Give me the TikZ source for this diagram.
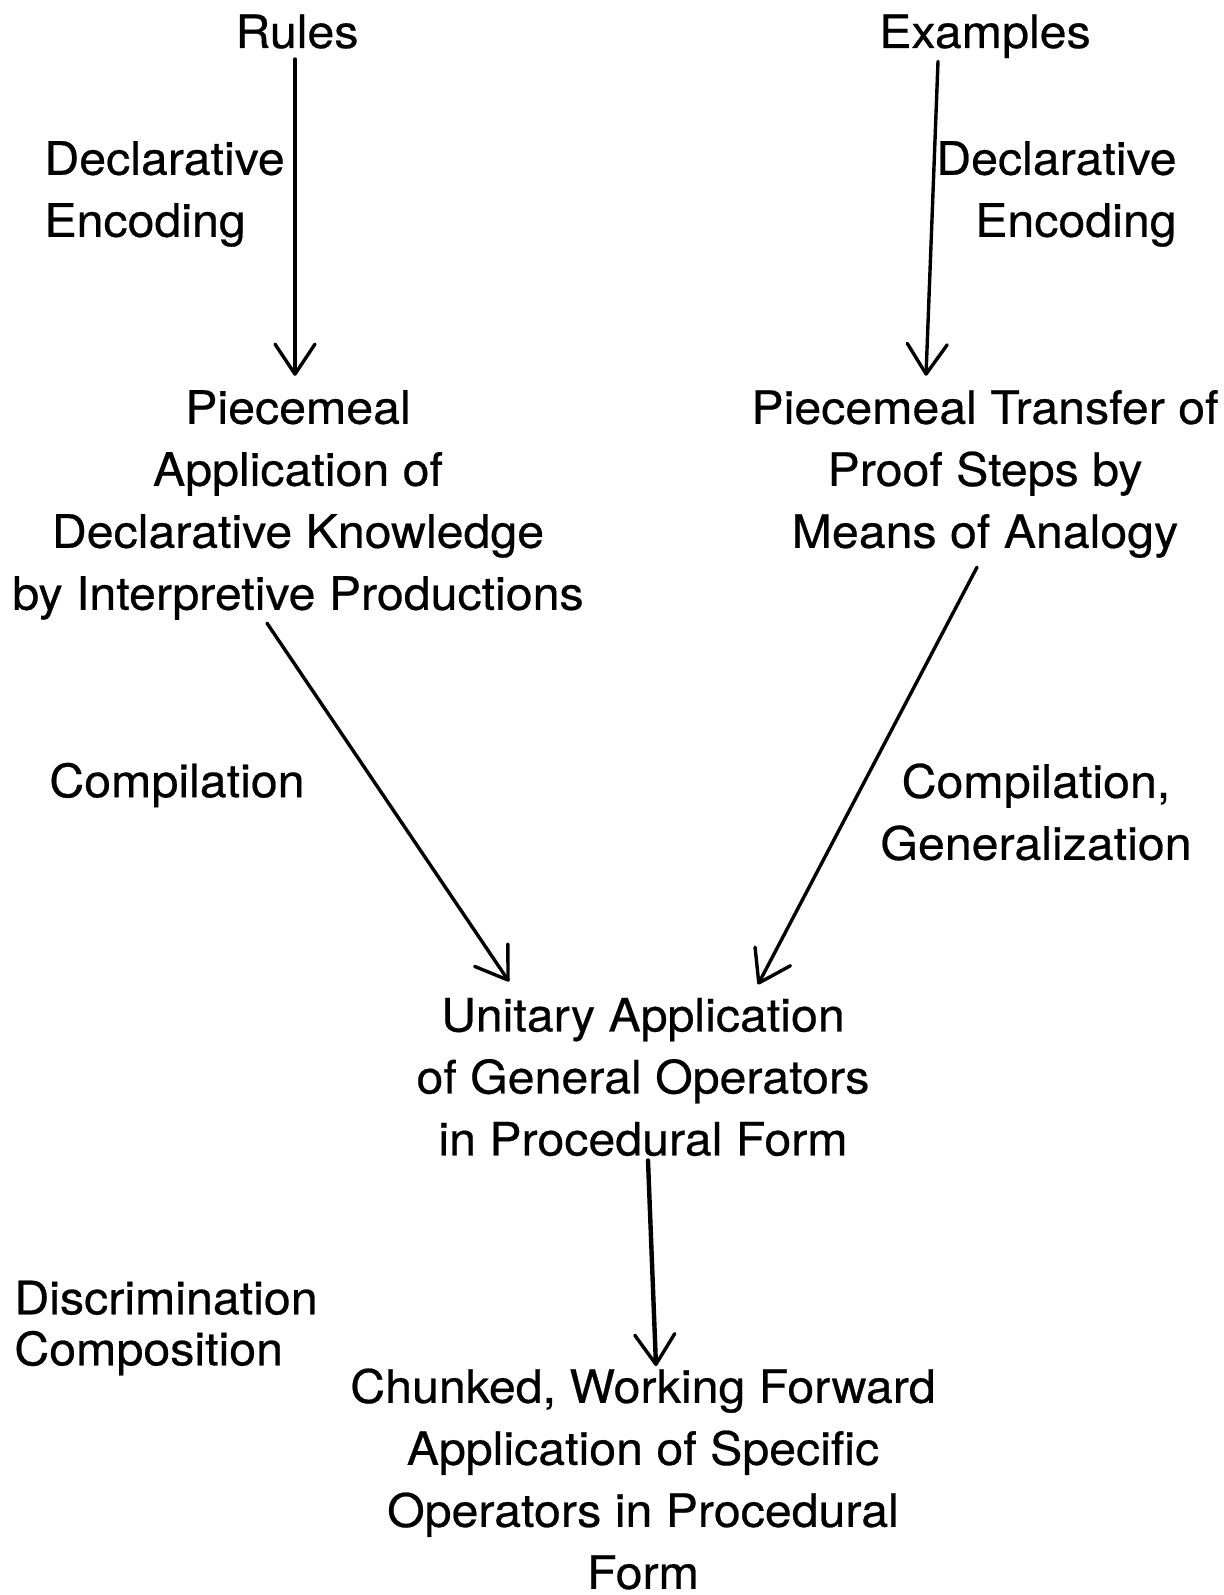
\documentclass[tikz,border=0pt]{standalone}
\usepackage{fontspec}
\setmainfont{TeX Gyre Heros}[FakeStretch=1.05,FakeBold=0.5]
\usetikzlibrary{arrows.meta,calc}
\begin{document}
\begin{tikzpicture}[x=0.5pt,y=-0.5pt,
  lbl/.style={inner sep=0pt, font=\fontsize{23}{31}\selectfont},
  arr/.style={line width=1.7pt, line cap=round, -{Straight Barb[length=15pt,width=20pt,line width=1.7pt,round]}}]
\useasboundingbox (0,0) rectangle (1224,1595);
\node[lbl, anchor=base] (rules) at (297,48) {Rules};
\node[lbl, anchor=base] (examples) at (985,48) {Examples};
\node[lbl, anchor=west, align=left] (declL) at (44,194) {Declarative\\Encoding};
\node[lbl, anchor=east, align=right] (declR) at (1177,194) {Declarative\\Encoding};
\node[lbl, align=center] (pieceL) at (298,505) {Piecemeal\\Application of\\Declarative Knowledge\\by Interpretive Productions};
\node[lbl, align=center] (pieceR) at (985,474) {Piecemeal Transfer of\\Proof Steps by\\Means of Analogy};
\node[lbl, anchor=west] (compL) at (49,785) {Compilation};
\node[lbl, align=center] (compR) at (1036,812) {Compilation,\\Generalization};
\node[lbl, align=center] (unitary) at (643,1077) {Unitary Application\\of General Operators\\in Procedural Form};
\node[lbl, anchor=west, align=left, font=\fontsize{23}{25.5}\selectfont] (discr) at (14,1328) {Discrimination\\Composition};
\node[lbl, align=center] (chunked) at (643,1479) {Chunked, Working Forward\\Application of Specific\\Operators in Procedural\\Form};
\draw[arr] ($(rules.south)+(-2,10)$) -- ($(pieceL.north)+(-3,-14)$);
\draw[arr] ($(examples.south)+(-47,3)$) -- ($(pieceR.north)+(-59,-14)$);
\draw[arr] ($(pieceL.south)+(-31,3)$) -- ($(unitary.north)+(-134,-16)$);
\draw[arr] ($(pieceR.south)+(-8,9)$) -- ($(unitary.north)+(115,-13)$);
\draw[arr, line width=2.2pt] ($(unitary.south)+(5,4)$) -- ($(chunked.north)+(13,-2)$);
\end{tikzpicture}
\end{document}
